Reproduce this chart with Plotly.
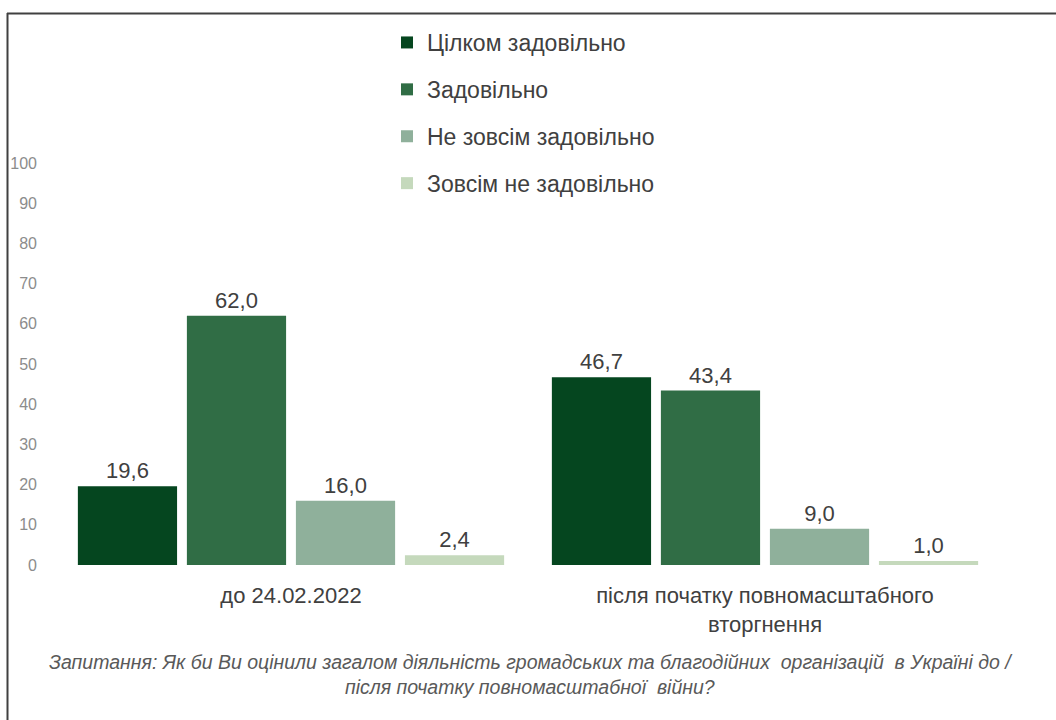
import plotly.graph_objects as go

categories = ["до 24.02.2022", "після початку повномасштабного<br>вторгнення"]
series_names = ["Цілком задовільно", "Задовільно", "Не зовсім задовільно", "Зовсім не задовільно"]
series_values = [
    [19.6, 46.7],
    [62.0, 43.4],
    [16.0, 9.0],
    [2.4, 1.0],
]
series_colors = ["#05461F", "#306D45", "#8FB09B", "#C5D9BC"]
tick_vals = list(range(0, 101, 10))
caption = ("Запитання: Як би Ви оцінили загалом діяльність громадських та благодійних  організацій  в Україні до /"
           "<br>після початку повномасштабної  війни?")

W, H = 1056, 720
L, R, T, B = 54, 54, 163, 155
FONT = "Liberation Sans, Arial, sans-serif"

fig = go.Figure()
for i, (name, vals, col) in enumerate(zip(series_names, series_values, series_colors)):
    fig.add_trace(go.Bar(
        x=categories, y=vals, name=name, legendgroup=f"g{i}",
        marker=dict(color=col, line=dict(width=0)),
        text=[f"{v:.1f}".replace(".", ",") for v in vals],
        textposition="outside", cliponaxis=False,
        textfont=dict(size=22, color="#404040"),
    ))

pw, ph = W - L - R, H - T - B
def px_x(x): return (x - L) / pw
def px_y(y): return (H - B - y) / ph

fig.update_layout(
    width=W, height=H,
    margin=dict(l=L, r=R, t=T, b=B, autoexpand=False),
    paper_bgcolor="white", plot_bgcolor="white",
    font=dict(family=FONT, color="#404040"),
    barmode="group", bargap=0.08, bargroupgap=0.09,
    showlegend=True,
    legend=dict(
        x=px_x(387), y=px_y(21),
        xanchor="left", yanchor="top", orientation="v",
        font=dict(size=23, color="#404040"),
        tracegroupgap=14, itemwidth=30, bgcolor="rgba(0,0,0,0)",
    ),
    xaxis=dict(showline=False, ticks="", tickfont=dict(size=22, color="#404040"), showgrid=False,
               ticklabelstandoff=15),
    yaxis=dict(range=[0, 100], tickvals=tick_vals, showgrid=False, zeroline=False, showline=False,
               tickfont=dict(size=16, color="#8C8C8C"), ticks="", ticklabelstandoff=16),
    uniformtext=dict(minsize=22, mode="show"),
)

fig.add_shape(type="line", xref="paper", yref="paper", x0=px_x(7), x1=px_x(1060), y0=px_y(13.5), y1=px_y(13.5),
              line=dict(color="#404040", width=2))
fig.add_shape(type="line", xref="paper", yref="paper", x0=px_x(7.5), x1=px_x(7.5), y0=px_y(13), y1=px_y(725),
              line=dict(color="#404040", width=2))

fig.add_annotation(text=caption, xref="paper", yref="paper", x=px_x(531), y=px_y(649),
                   xanchor="center", yanchor="top", showarrow=False, align="center",
                   font=dict(size=19.5, color="#595959", family=FONT, style="italic"))

fig.write_html("out.html", config={"displayModeBar": False},
               post_script="document.body.style.margin='0px';document.body.style.padding='0px';")
